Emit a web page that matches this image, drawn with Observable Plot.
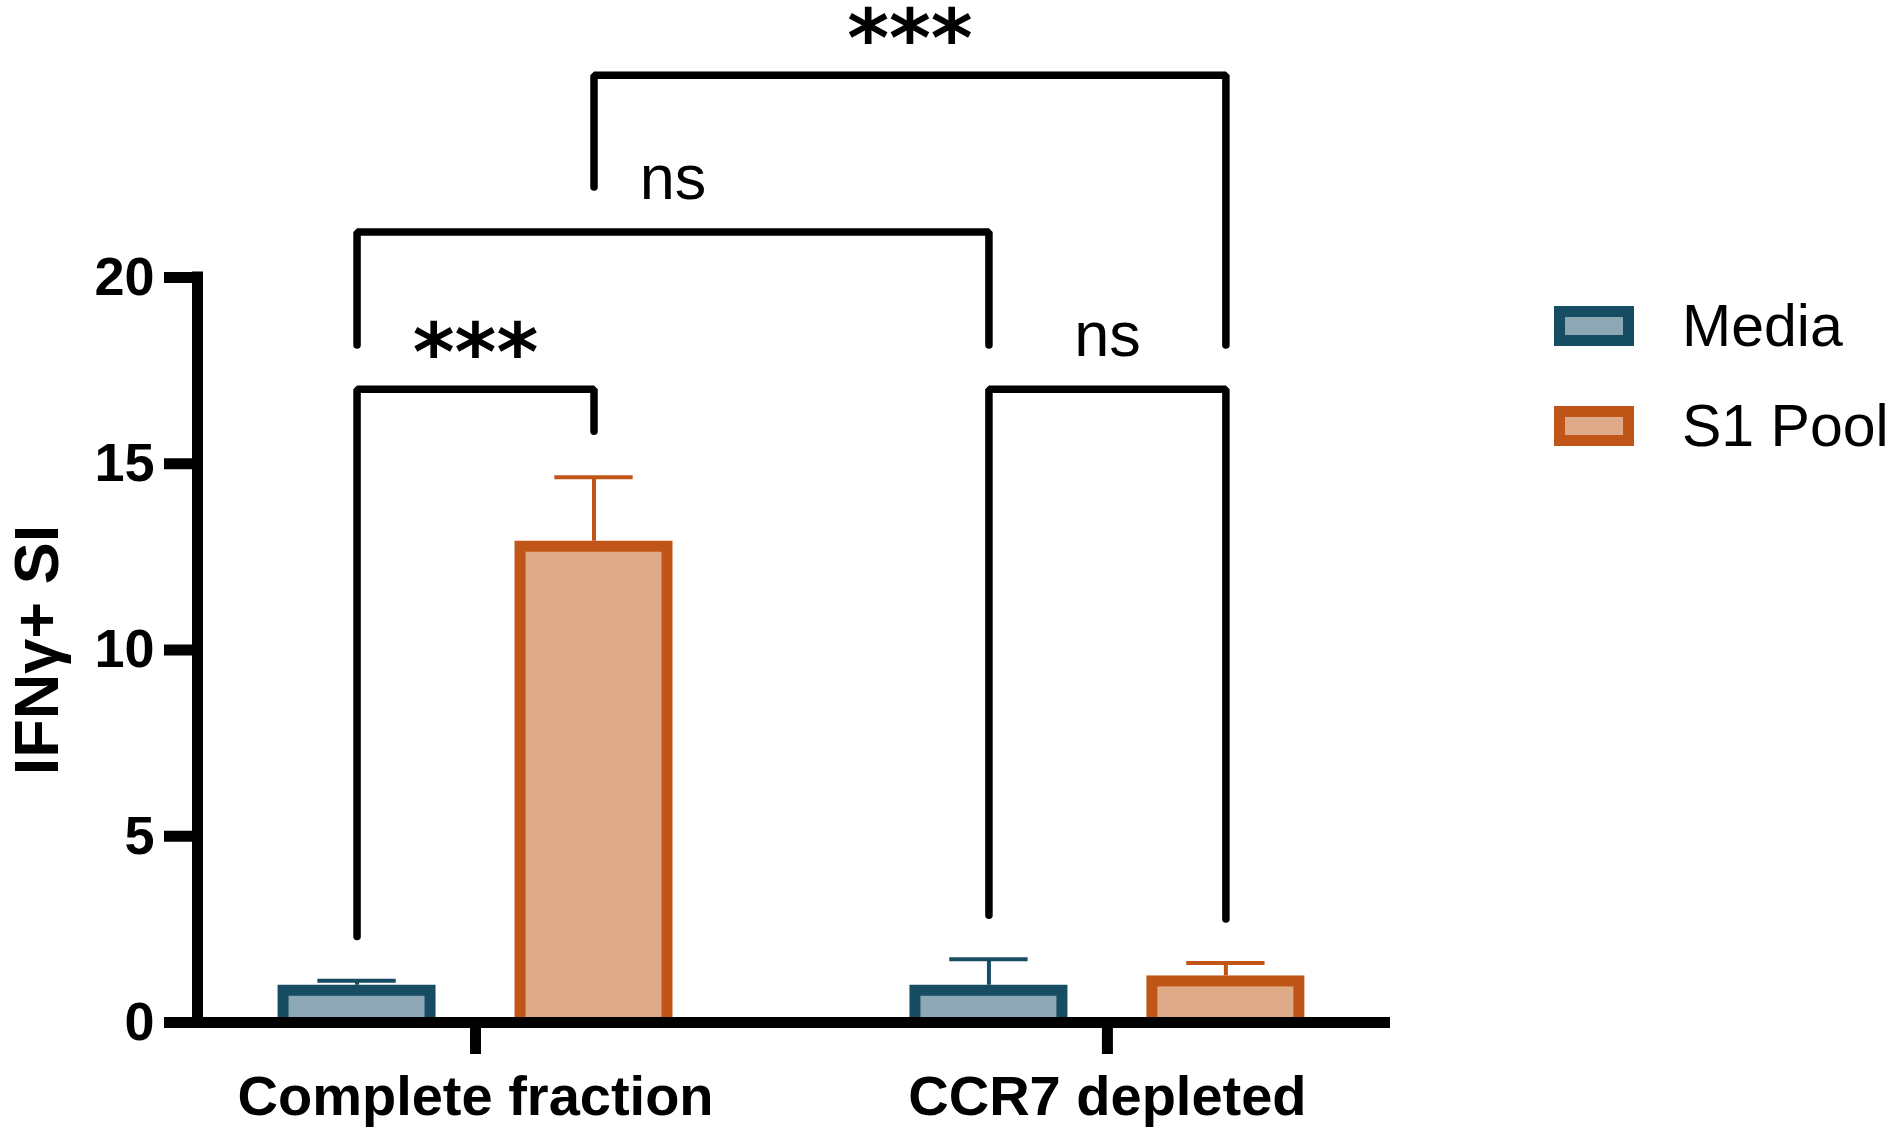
<!DOCTYPE html>
<html><head><meta charset="utf-8">
<script src="https://cdn.jsdelivr.net/npm/d3@7"></script>
<script src="https://cdn.jsdelivr.net/npm/@observablehq/plot@0.6"></script>
<style>
html,body{margin:0;padding:0;background:#fff;}
#wrap{position:relative;width:1899px;height:1132px;overflow:hidden;}
.sw{position:absolute;left:1554px;width:80px;height:40px;box-sizing:border-box;border:11px solid;}
.lt{position:absolute;left:1682px;font:59px/1 "Liberation Sans", Arial, sans-serif;color:#000;white-space:nowrap;}
</style></head><body><div id="wrap"></div>
<script>
// ---- data ----
const groups = ["Complete fraction", "CCR7 depleted"];
const seriesNames = ["Media", "S1 Pool"];
const mediaMean = [1.0, 1.0];
const s1Mean = [12.92, 1.25];
const mediaErrTop = [1.12, 1.70];
const s1ErrTop = [14.64, 1.60];
const yTicks = [0, 5, 10, 15, 20];
const yTitle = "IFNγ+ SI";
const bracketLabels = ["***", "ns", "***", "ns"];
const bracketFrom = [[0, "Media"], [0, "Media"], [0, "S1 Pool"], [1, "Media"]];
const bracketTo = [[0, "S1 Pool"], [1, "Media"], [1, "S1 Pool"], [1, "S1 Pool"]];
const bracketLevel = [17.0, 21.22, 25.43, 17.0];
const bracketFromBottom = [2.31, 18.19, 22.43, 2.88];
const bracketToBottom = [15.87, 18.19, 18.19, 2.78];

// ---- styling / layout ----
const borderColor = {"Media": "#174d63", "S1 Pool": "#bf5517"};
const fillColor = {"Media": "#8da8b4", "S1 Pool": "#deaa88"};
const offset = {"Media": -0.1875, "S1 Pool": 0.1875};
const halfBar = 0.125, halfCap = 0.062;
const xDomain = [-0.44, 1.448];

const bars = groups.flatMap((g, i) => seriesNames.map(s => ({
  group: g, gi: i, series: s,
  mean: s === "Media" ? mediaMean[i] : s1Mean[i],
  err: s === "Media" ? mediaErrTop[i] : s1ErrTop[i],
  cx: i + offset[s]
})));

const brackets = bracketLabels.map((label, k) => {
  const xa = bracketFrom[k][0] + offset[bracketFrom[k][1]];
  const xb = bracketTo[k][0] + offset[bracketTo[k][1]];
  return {id: k, label, xa, xb, mid: (xa + xb) / 2, level: bracketLevel[k],
          ya: bracketFromBottom[k], yb: bracketToBottom[k]};
});
const bracketPts = brackets.flatMap(b => [
  {id: b.id, x: b.xa, y: b.ya}, {id: b.id, x: b.xa, y: b.level},
  {id: b.id, x: b.xb, y: b.level}, {id: b.id, x: b.xb, y: b.yb}
]);

const marks = [];
for (const s of seriesNames) {
  const d = bars.filter(b => b.series === s);
  marks.push(Plot.rectY(d, {x1: b => b.cx - halfBar, x2: b => b.cx + halfBar, y1: 0, y2: "mean", fill: borderColor[s]}));
  marks.push(Plot.rectY(d, {x1: b => b.cx - halfBar, x2: b => b.cx + halfBar, y1: 0, y2: "mean", fill: fillColor[s], insetTop: 11, insetLeft: 11, insetRight: 11}));
  marks.push(Plot.ruleX(d, {x: "cx", y1: "mean", y2: "err", stroke: borderColor[s], strokeWidth: 4}));
  marks.push(Plot.ruleY(d, {y: "err", x1: b => b.cx - halfCap, x2: b => b.cx + halfCap, stroke: borderColor[s], strokeWidth: 4}));
}
// axes
marks.push(Plot.ruleX([xDomain[0]], {y1: 0, y2: yTicks[yTicks.length - 1], stroke: "black", strokeWidth: 11, strokeLinecap: "square"}));
marks.push(Plot.ruleY([0], {stroke: "black", strokeWidth: 11}));
marks.push(Plot.axisY({ticks: yTicks, tickSize: 33, tickPadding: 10, fontSize: 54, fontWeight: "bold", strokeWidth: 11, label: null, tickFormat: d => String(d), fill: "black"}));
marks.push(Plot.axisX({ticks: [0, 1], tickFormat: i => groups[i], tickSize: 32, tickPadding: 21, fontSize: 56, fontWeight: "bold", strokeWidth: 11, label: null, fill: "black"}));
marks.push(Plot.text([yTitle], {text: d => d, frameAnchor: "left", textAnchor: "middle", rotate: -90, dx: -140, lineAnchor: "bottom", fontSize: 63, fontWeight: "bold", fill: "black"}));
// brackets
marks.push(Plot.line(bracketPts, {x: "x", y: "y", z: "id", stroke: "black", strokeWidth: 7.5, strokeLinejoin: "miter"}));
marks.push(Plot.text(brackets.filter(b => b.label !== "ns"), {x: "mid", y: "level", text: "label", lineAnchor: "bottom", dy: -9, fontSize: 80, fontWeight: "bold", fontFamily: "DejaVu Sans", fill: "black"}));
marks.push(Plot.text(brackets.filter(b => b.label === "ns"), {x: "mid", y: "level", text: "label", lineAnchor: "bottom", dy: -33, fontSize: 63, fill: "black"}));

const chart = Plot.plot({
  width: 1899, height: 1132,
  marginLeft: 197, marginRight: 509, marginTop: 277, marginBottom: 110,
  x: {type: "linear", domain: xDomain},
  y: {domain: [0, 20]},
  style: {fontFamily: "'Liberation Sans', Arial, sans-serif", background: "white", color: "black", overflow: "visible"},
  marks
});
const wrap = document.getElementById("wrap");
wrap.appendChild(chart);

// legend
const legendTops = [306, 406];
seriesNames.forEach((s, i) => {
  const sw = document.createElement("div");
  sw.className = "sw";
  sw.style.top = legendTops[i] + "px";
  sw.style.borderColor = borderColor[s];
  sw.style.background = fillColor[s];
  wrap.appendChild(sw);
  const t = document.createElement("div");
  t.className = "lt";
  t.style.top = (legendTops[i] - 9) + "px";
  t.textContent = s;
  wrap.appendChild(t);
});
</script></body></html>
